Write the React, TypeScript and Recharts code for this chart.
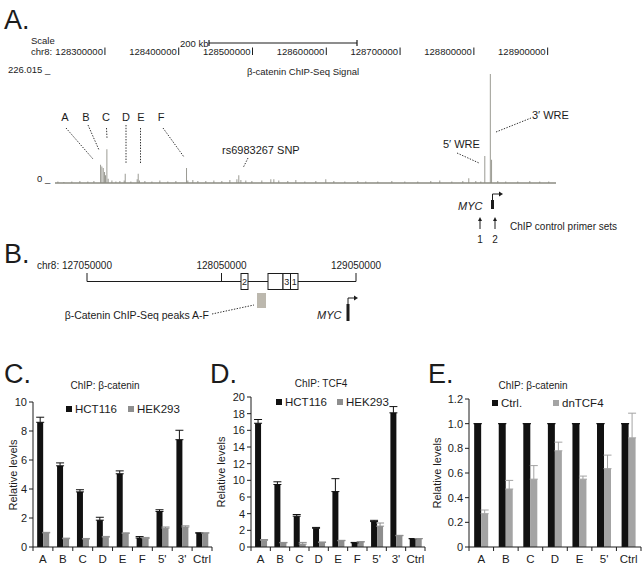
import { BarChart, Bar, XAxis, YAxis, ErrorBar, ReferenceLine } from "recharts";

const FONT = "'Liberation Sans', Arial, Helvetica, sans-serif";
const INK = "#1c1c1c";
const TRACK = "#8b8b82";

// A. beta-catenin ChIP-seq signal on chr8 (hg18), visible peaks (bp, signal)
const signalPos = [
  128237000, 128245100, 128255900, 128266800, 128277600, 128285800, 128294900, 128296600,
  128298400, 128300300, 128301600, 128303400, 128305100, 128310200, 128315600, 128321000,
  128326800, 128328200, 128335900, 128344400, 128345800, 128347400, 128354900, 128364400,
  128375200, 128386000, 128396900, 128411400, 128413100, 128419900, 128426700, 128437500,
  128448400, 128459200, 128470100, 128479600, 128482200, 128485000, 128491700, 128499900,
  128513400, 128525600, 128529700, 128536400, 128548600, 128559500, 128571700, 128586600,
  128600100, 128611000, 128625900, 128643500, 128654300, 128670600, 128689600, 128707200,
  128724800, 128742400, 128754600, 128770900, 128785800, 128793900, 128803400, 128810200,
  128815600, 128823000, 128824800, 128833200, 128844000, 128860300, 128876600, 128890100,
  128902300,
];
const signalVal = [
  3, 2, 3, 4, 3, 4, 38, 34,
  31, 23, 16, 70, 9, 5, 3, 4,
  5, 19, 3, 8, 19, 5, 4, 3,
  5, 3, 4, 31, 5, 6, 4, 4,
  5, 4, 6, 8, 16, 6, 5, 4,
  5, 8, 8, 5, 4, 6, 3, 4,
  8, 4, 3, 4, 3, 3, 4, 3,
  3, 4, 5, 3, 4, 10, 4, 3,
  56, 226, 48, 4, 3, 3, 4, 3,
  3,
];
const rulerTicks = [128300000, 128400000, 128500000, 128600000, 128700000, 128800000, 128900000];
const trackStart = 128233000;
const trackEnd = 128912000;
const trackMax = 226.015;

// C. ChIP: beta-catenin
const catsC = ["A", "B", "C", "D", "E", "F", "5'", "3'", "Ctrl"];
const hctC = [8.6, 5.6, 3.8, 1.85, 5.05, 0.62, 2.45, 7.4, 0.97];
const hctErrC = [0.35, 0.2, 0.15, 0.2, 0.2, 0.1, 0.12, 0.65, 0];
const hekC = [0.97, 0.57, 0.55, 0.68, 0.93, 0.58, 1.3, 1.38, 0.97];
const hekErrC = [0.04, 0.04, 0.04, 0.05, 0.05, 0.08, 0.08, 0.08, 0];
const ticksC = [0, 2, 4, 6, 8, 10];

// D. ChIP: TCF4 (printed axis skips 8, ticks evenly spaced)
const catsD = ["A", "B", "C", "D", "E", "F", "5'", "3'", "Ctrl"];
const hctD = [16.85, 9.0, 3.7, 2.25, 7.3, 0.5, 3.05, 18.1, 1.0];
const hctErrD = [0.45, 0.65, 0.2, 0.1, 2.9, 0.05, 0.15, 0.75, 0];
const hekD = [0.8, 0.5, 0.35, 0.55, 0.75, 0.6, 2.5, 1.35, 1.0];
const hekErrD = [0.1, 0.05, 0.2, 0.05, 0.05, 0.05, 0.38, 0.05, 0];
const ticksD = [0, 2, 4, 6, 10, 12, 14, 16, 18, 20];

// E. ChIP: beta-catenin, Ctrl. vs dnTCF4
const catsE = ["A", "B", "C", "D", "E", "5'", "Ctrl"];
const ctrlE = [1, 1, 1, 1, 1, 1, 1];
const ctrlErrE = [0, 0, 0, 0, 0, 0, 0];
const dnE = [0.27, 0.47, 0.55, 0.78, 0.55, 0.635, 0.885];
const dnErrE = [0.03, 0.07, 0.11, 0.07, 0.025, 0.11, 0.2];
const ticksE = [0, 0.2, 0.4, 0.6, 0.8, 1.0, 1.2];

const BLACK = "#111111";
const GREY = "#8e8e8e";
const LIGHT = "#a4a4a4";

type Series = { name: string; values: number[]; errors: number[]; color: string };

// maps a value onto evenly spaced tick positions (index units)
const onTicks = (ticks: number[]) => (v: number) => {
  for (let i = 0; i < ticks.length - 1; i++) {
    if (v <= ticks[i + 1]) return i + (v - ticks[i]) / (ticks[i + 1] - ticks[i]);
  }
  return ticks.length - 1;
};

const RulerTick = ({ x, payload }: any) => (
  <g>
    <text x={x - 1.5} y={55} textAnchor="end" fontSize={9.5} fill={INK} fontFamily={FONT}>
      {payload.value}
    </text>
    <line x1={x + 0.5} x2={x + 0.5} y1={47.5} y2={55} stroke={INK} strokeWidth={1} />
  </g>
);

const SignalTrack = () => {
  const data = signalPos.map((pos, i) => ({ pos, v: signalVal[i] }));
  return (
    <div style={{ position: "absolute", left: 0, top: 0 }}>
      <BarChart width={644} height={200} data={data} margin={{ top: 54, right: 88, bottom: 17, left: 55 }}>
        <XAxis
          dataKey="pos"
          orientation="top"
          type="number"
          domain={[trackStart, trackEnd]}
          allowDataOverflow
          ticks={rulerTicks}
          interval={0}
          height={20}
          axisLine={false}
          tickLine={false}
          tick={(t: any) => <RulerTick {...t} />}
        />
        <YAxis hide domain={[0, trackMax]} allowDataOverflow />
        <ReferenceLine y={0} stroke={TRACK} strokeWidth={1.5} />
        <Bar dataKey="v" fill={TRACK} barSize={2} isAnimationActive={false} />
      </BarChart>
    </div>
  );
};

const CatTick = ({ x, y, payload, index, band, count }: any) => (
  <g>
    <line x1={x - band / 2} x2={x - band / 2} y1={y} y2={y + 4} stroke={INK} />
    {index === count - 1 && <line x1={x + band / 2} x2={x + band / 2} y1={y} y2={y + 4} stroke={INK} />}
    <text x={x} y={y + 16} textAnchor="middle" fontSize={11.5} fill={INK} fontFamily={FONT}>
      {payload.value}
    </text>
  </g>
);

type PanelProps = {
  left: number;
  top: number;
  width: number;
  height: number;
  plotLeft: number;
  plotRight: number;
  plotTop: number;
  plotBottom: number;
  cats: string[];
  series: Series[];
  yDomain: [number, number];
  yTicks: number[];
  yFormat: (v: number) => string;
  toAxis?: (v: number) => number;
};

const ChipPanel = (p: PanelProps) => {
  const toAxis = p.toAxis ?? ((v: number) => v);
  const data = p.cats.map((cat, i) => {
    const row: Record<string, unknown> = { cat };
    p.series.forEach((s, k) => {
      const v = toAxis(s.values[i]);
      row[`v${k}`] = v;
      row[`e${k}`] = [0, toAxis(s.values[i] + s.errors[i]) - v];
    });
    return row;
  });
  const band = (p.plotRight - p.plotLeft) / p.cats.length;
  return (
    <div style={{ position: "absolute", left: p.left, top: p.top }}>
      <BarChart
        width={p.width}
        height={p.height}
        data={data}
        margin={{ top: p.plotTop - p.top, right: p.left + p.width - p.plotRight, bottom: 0, left: 2 }}
        barCategoryGap="21%"
        barGap={0}
      >
        <XAxis
          dataKey="cat"
          height={p.top + p.height - p.plotBottom}
          interval={0}
          tickSize={0}
          tickMargin={0}
          axisLine={{ stroke: INK }}
          tickLine={false}
          tick={(t: any) => <CatTick {...t} band={band} count={p.cats.length} />}
        />
        <YAxis
          width={p.plotLeft - p.left - 2}
          domain={p.yDomain}
          ticks={p.yTicks}
          interval={0}
          allowDataOverflow
          tickFormatter={p.yFormat}
          tickSize={4}
          tickMargin={2}
          axisLine={{ stroke: INK }}
          tickLine={{ stroke: INK }}
          tick={{ fontSize: 11, fill: INK, fontFamily: FONT }}
        />
        {p.series.map((s, k) => (
          <Bar key={s.name} dataKey={`v${k}`} fill={s.color} isAnimationActive={false}>
            <ErrorBar dataKey={`e${k}`} width={4} stroke={s.color} strokeWidth={1} direction="y" />
          </Bar>
        ))}
      </BarChart>
    </div>
  );
};

const Legend = ({ series, xs, y }: { series: Series[]; xs: number[]; y: number }) => (
  <>
    {series.map((s, i) => (
      <div
        key={s.name}
        style={{
          position: "absolute",
          left: xs[i],
          top: y - 7,
          height: 14,
          display: "flex",
          alignItems: "center",
          fontSize: 11.5,
          color: INK,
          whiteSpace: "nowrap",
        }}
      >
        <span style={{ width: 6, height: 6, background: s.color, marginRight: 3 }} />
        {s.name}
      </div>
    ))}
  </>
);

const Dotted = ({ x1, y1, x2, y2 }: { x1: number; y1: number; x2: number; y2: number }) => (
  <line x1={x1} y1={y1} x2={x2} y2={y2} stroke="#333" strokeWidth={1} strokeDasharray="1.4 1.4" />
);

const UpArrow = ({ x, y1, y2 }: { x: number; y1: number; y2: number }) => (
  <g>
    <line x1={x} x2={x} y1={y1} y2={y2 + 3} stroke={INK} strokeWidth={1} />
    <polygon points={`${x - 2},${y2 + 4} ${x},${y2} ${x + 2},${y2 + 4}`} fill={INK} />
  </g>
);

const Annotations = () => (
  <svg
    width={644}
    height={567}
    style={{ position: "absolute", left: 0, top: 0, pointerEvents: "none" }}
    fontFamily={FONT}
    fill={INK}
  >
    {/* panel letters */}
    <text x={4} y={29} fontSize={27}>A.</text>
    <text x={4} y={263} fontSize={27}>B.</text>
    <text x={4} y={383} fontSize={27}>C.</text>
    <text x={210} y={383} fontSize={27}>D.</text>
    <text x={428} y={383} fontSize={27}>E.</text>

    {/* A: browser header */}
    <text x={31} y={44} fontSize={9.5}>Scale</text>
    <text x={31} y={55} fontSize={9.5}>chr8:</text>
    <text x={180} y={46.5} fontSize={9.5}>200 kb</text>
    <line x1={209} x2={357} y1={43} y2={43} stroke={INK} strokeWidth={1.2} />
    <line x1={209} x2={209} y1={40} y2={46} stroke={INK} strokeWidth={1.2} />
    <line x1={357} x2={357} y1={40} y2={46} stroke={INK} strokeWidth={1.2} />
    <text x={8} y={73} fontSize={9.5}>226.015 _</text>
    <text x={303} y={75} fontSize={9.5} textAnchor="middle">β-catenin ChIP-Seq Signal</text>
    <text x={37} y={182} fontSize={9.5}>0 _</text>

    {/* A: peak labels */}
    <g fontSize={11} textAnchor="middle">
      <text x={65} y={121}>A</text>
      <text x={86} y={121}>B</text>
      <text x={106} y={121}>C</text>
      <text x={126} y={121}>D</text>
      <text x={141} y={121}>E</text>
      <text x={161} y={121}>F</text>
    </g>
    <Dotted x1={66} y1={128} x2={93} y2={159} />
    <Dotted x1={88} y1={125} x2={99} y2={150} />
    <Dotted x1={106.5} y1={128} x2={107} y2={138} />
    <Dotted x1={126} y1={125} x2={126} y2={163} />
    <Dotted x1={140.5} y1={128} x2={140.5} y2={163} />
    <Dotted x1={163} y1={128} x2={184} y2={157} />
    <text x={222} y={154} fontSize={11}>rs6983267 SNP</text>
    <Dotted x1={248} y1={158} x2={243} y2={168} />
    <text x={443} y={148} fontSize={11}>5′ WRE</text>
    <Dotted x1={457} y1={153} x2={479} y2={163} />
    <text x={532} y={119} fontSize={11}>3′ WRE</text>
    <Dotted x1={496} y1={132} x2={531} y2={118} />

    {/* A: MYC and primers */}
    <text x={458} y={210} fontSize={11} fontStyle="italic">MYC</text>
    <rect x={491} y={200} width={3} height={9} fill={INK} />
    <polyline points="492.5,201 492.5,194 499,194" fill="none" stroke={INK} strokeWidth={1} />
    <polygon points="499,191.5 503,194 499,196.5" fill={INK} />
    <UpArrow x={480} y1={229} y2={217} />
    <UpArrow x={495} y1={229} y2={217} />
    <text x={510} y={230} fontSize={10}>ChIP control primer sets</text>
    <text x={480} y={243} fontSize={10} textAnchor="middle">1</text>
    <text x={495} y={243} fontSize={10} textAnchor="middle">2</text>

    {/* B: locus schematic */}
    <text x={112} y={269} fontSize={10} textAnchor="end">chr8: 127050000</text>
    <text x={221.5} y={269} fontSize={10} textAnchor="middle">128050000</text>
    <text x={356} y={269} fontSize={10} textAnchor="middle">129050000</text>
    <line x1={87} x2={356} y1={281.5} y2={281.5} stroke={INK} strokeWidth={1} />
    <line x1={87} x2={87} y1={273} y2={281.5} stroke={INK} />
    <line x1={221.5} x2={221.5} y1={273} y2={281.5} stroke={INK} />
    <line x1={356} x2={356} y1={273} y2={281.5} stroke={INK} />
    <g fill="#fff" stroke={INK} strokeWidth={1}>
      <rect x={241} y={273.5} width={7} height={16} />
      <rect x={268} y={273.5} width={15} height={16} />
      <rect x={283} y={273.5} width={7.5} height={16} />
      <rect x={290.5} y={273.5} width={7.5} height={16} />
    </g>
    <g fontSize={9} textAnchor="middle">
      <text x={244.5} y={285}>2</text>
      <text x={286.8} y={285}>3</text>
      <text x={294.3} y={285}>1</text>
    </g>
    <rect x={257} y={293} width={9} height={15} fill="#bcb8ae" />
    <Dotted x1={212} y1={314} x2={254} y2={305} />
    <text x={209} y={319} fontSize={10.5} textAnchor="end">β-Catenin ChIP-Seq peaks A-F</text>
    <text x={317} y={319} fontSize={11} fontStyle="italic">MYC</text>
    <rect x={346.5} y={304} width={3} height={17} fill={INK} />
    <polyline points="348,305 348,298 354,298" fill="none" stroke={INK} strokeWidth={1} />
    <polygon points="354,295.5 358,298 354,300.5" fill={INK} />

    {/* C-E titles and axis labels */}
    <g fontSize={10} textAnchor="middle">
      <text x={105} y={389}>ChIP: β-catenin</text>
      <text x={321} y={387}>ChIP: TCF4</text>
      <text x={533} y={389}>ChIP: β-catenin</text>
    </g>
    <g fontSize={11} textAnchor="middle">
      <text x={17} y={475} transform="rotate(-90 17 475)">Relative levels</text>
      <text x={225} y={472} transform="rotate(-90 225 472)">Relative levels</text>
      <text x={441} y={473} transform="rotate(-90 441 473)">Relative levels</text>
    </g>
  </svg>
);

const seriesC: Series[] = [
  { name: "HCT116", values: hctC, errors: hctErrC, color: BLACK },
  { name: "HEK293", values: hekC, errors: hekErrC, color: GREY },
];
const seriesD: Series[] = [
  { name: "HCT116", values: hctD, errors: hctErrD, color: BLACK },
  { name: "HEK293", values: hekD, errors: hekErrD, color: GREY },
];
const seriesE: Series[] = [
  { name: "Ctrl.", values: ctrlE, errors: ctrlErrE, color: BLACK },
  { name: "dnTCF4", values: dnE, errors: dnErrE, color: LIGHT },
];

export default function App() {
  const dAxis = onTicks(ticksD);
  return (
    <div
      style={{
        position: "absolute",
        left: 0,
        top: 0,
        width: 644,
        height: 567,
        overflow: "hidden",
        background: "#fff",
        fontFamily: FONT,
      }}
    >
      <SignalTrack />
      <ChipPanel
        left={0}
        top={380}
        width={215}
        height={187}
        plotLeft={33}
        plotRight={212}
        plotTop={402}
        plotBottom={547}
        cats={catsC}
        series={seriesC}
        yDomain={[0, 10]}
        yTicks={ticksC}
        yFormat={(v) => String(v)}
      />
      <ChipPanel
        left={215}
        top={380}
        width={215}
        height={187}
        plotLeft={251}
        plotRight={425}
        plotTop={397}
        plotBottom={547}
        cats={catsD}
        series={seriesD}
        yDomain={[0, ticksD.length - 1]}
        yTicks={ticksD.map((_, i) => i)}
        yFormat={(i) => String(ticksD[Math.round(i)])}
        toAxis={dAxis}
      />
      <ChipPanel
        left={430}
        top={380}
        width={214}
        height={187}
        plotLeft={469}
        plotRight={641}
        plotTop={399}
        plotBottom={547}
        cats={catsE}
        series={seriesE}
        yDomain={[0, 1.2]}
        yTicks={ticksE}
        yFormat={(v) => (v === 0 ? "0" : v.toFixed(1))}
      />
      <Legend series={seriesC} xs={[66, 128]} y={409} />
      <Legend series={seriesD} xs={[276, 337]} y={402} />
      <Legend series={seriesE} xs={[492, 553]} y={403} />
      <Annotations />
    </div>
  );
}
